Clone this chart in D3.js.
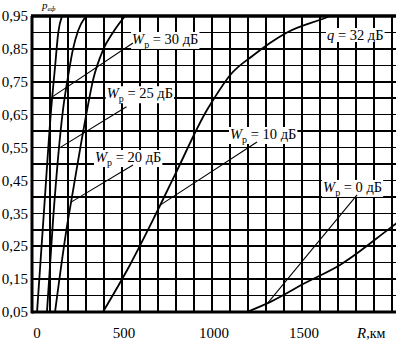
<!DOCTYPE html>
<html>
<head>
<meta charset="utf-8">
<script src="https://cdn.jsdelivr.net/npm/d3@7"></script>
<style>
  body { margin: 0; background: #fff; }
  svg { display: block; }
</style>
</head>
<body>
<svg id="chart" width="396" height="343"></svg>
<script>
// axis ticks
const rTicks = [0, 500, 1000, 1500];
const rGrid = d3.range(0, 2001, 100);
const pTicks = [0.05, 0.15, 0.25, 0.35, 0.45, 0.55, 0.65, 0.75, 0.85, 0.95];
const pTickLabels = ["0,05", "0,15", "0,25", "0,35", "0,45", "0,55", "0,65", "0,75", "0,85", "0,95"];
const pGrid = d3.range(0.05, 0.951, 0.05);

// curves: [R km, p]
const curveWp30 = [[28, 0.05], [67, 0.36], [106, 0.664], [128, 0.795], [146, 0.9], [167, 0.95]];
const curveWp25 = [[83, 0.05], [117, 0.33], [172, 0.664], [200, 0.765], [228, 0.85], [256, 0.905], [300, 0.95]];
const curveWp20 = [[128, 0.05], [200, 0.33], [217, 0.384], [306, 0.664], [339, 0.755], [394, 0.846], [450, 0.9], [517, 0.95]];
const curveWp10 = [[394, 0.05], [544, 0.193], [672, 0.33], [794, 0.467], [972, 0.664], [1017, 0.704],
                   [1100, 0.77], [1228, 0.83], [1322, 0.868], [1417, 0.9], [1628, 0.944], [1656, 0.95]];
const curveWp0 = [[1194, 0.05], [1322, 0.08], [1517, 0.138], [1711, 0.193], [1989, 0.305], [2030, 0.322]];

// labels: curve, text, label anchor (R, p), leader start p on curve, leader end (R, p)
const notes = [
  { curve: curveWp30, sub: "р", rest: " = 30 дБ", R: 556, p: 0.865, fromP: 0.704, toR: 561, toP: 0.868 },
  { curve: curveWp25, sub: "р", rest: " = 25 дБ", R: 415, p: 0.70, fromP: 0.549, toR: 525, toP: 0.674 },
  { curve: curveWp20, sub: "р", rest: " = 20 дБ", R: 350, p: 0.506, fromP: 0.384, toR: 561, toP: 0.497 },
  { curve: curveWp10, sub: "р", rest: " = 10 дБ", R: 1100, p: 0.576, fromP: 0.375, toR: 1250, toP: 0.567 },
  { curve: curveWp0, sub: "р", rest: " = 0 дБ", R: 1617, p: 0.415, fromP: 0.077, toR: 1806, toP: 0.406 }
];

const font = "Liberation Serif";
const svg = d3.select("#chart").style("font-family", font);
const x = d3.scaleLinear().domain([0, 2000]).range([32, 392]);
const y = d3.scaleLinear().domain([0.05, 0.95]).range([312, 16]);
const xEnd = 396;

// grid
svg.append("g")
  .selectAll("line")
  .data(rGrid)
  .enter().append("line")
  .attr("x1", d => x(d)).attr("x2", d => x(d))
  .attr("y1", y(0.95)).attr("y2", y(0.05))
  .attr("stroke", "#000")
  .attr("stroke-width", 1.6)
  .attr("shape-rendering", "crispEdges");

svg.append("g")
  .selectAll("line")
  .data(pGrid)
  .enter().append("line")
  .attr("x1", x(0)).attr("x2", xEnd)
  .attr("y1", d => y(d)).attr("y2", d => y(d))
  .attr("stroke", "#000")
  .attr("stroke-width", 1.6)
  .attr("shape-rendering", "crispEdges");

// frame
svg.append("line").attr("x1", x(0) - 1).attr("x2", xEnd).attr("y1", y(0.95)).attr("y2", y(0.95))
  .attr("stroke", "#000").attr("stroke-width", 3.5);
svg.append("line").attr("x1", x(0)).attr("x2", x(0)).attr("y1", y(0.95)).attr("y2", y(0.05) + 1.5)
  .attr("stroke", "#000").attr("stroke-width", 3);
svg.append("line").attr("x1", x(0)).attr("x2", xEnd).attr("y1", y(0.05)).attr("y2", y(0.05))
  .attr("stroke", "#000").attr("stroke-width", 3);

// curves
const line = d3.line()
  .x(d => x(d[0]))
  .y(d => y(d[1]))
  .curve(d3.curveMonotoneX);

svg.append("defs").append("clipPath").attr("id", "plot")
  .append("rect").attr("x", x(0)).attr("y", y(0.95)).attr("width", xEnd - x(0)).attr("height", y(0.05) - y(0.95));

svg.append("g")
  .attr("clip-path", "url(#plot)")
  .selectAll("path")
  .data([curveWp30, curveWp25, curveWp20, curveWp10, curveWp0])
  .enter().append("path")
  .attr("d", line)
  .attr("fill", "none")
  .attr("stroke", "#000")
  .attr("stroke-width", 1.8);

// find R on a curve for a given p
function rAt(curve, p) {
  for (let i = 1; i < curve.length; i++) {
    const a = curve[i - 1], b = curve[i];
    if (p >= a[1] && p <= b[1]) return a[0] + (p - a[1]) / (b[1] - a[1]) * (b[0] - a[0]);
  }
  return curve[0][0];
}

// labels with white background
function addLabel(g, parts, px, py) {
  const t = g.append("text").attr("x", px).attr("y", py)
    .style("font-family", font).style("font-size", "14.5px");
  parts(t);
  const bb = t.node().getBBox();
  g.insert("rect", "text")
    .attr("x", bb.x - 1).attr("y", bb.y + 1)
    .attr("width", bb.width + 2).attr("height", bb.height - 2)
    .attr("fill", "#fff");
}

notes.forEach(n => {
  const g = svg.append("g");
  addLabel(g, t => {
    t.append("tspan").style("font-style", "italic").text("W");
    t.append("tspan").attr("dy", 4).style("font-size", "10px").text(n.sub);
    t.append("tspan").attr("dy", -4).text(n.rest);
  }, x(n.R), y(n.p));
});

const gq = svg.append("g");
addLabel(gq, t => {
  t.append("tspan").style("font-style", "italic").text("q");
  t.append("tspan").text(" = 32 дБ");
}, x(1639), y(0.877));

// leaders
svg.append("g")
  .selectAll("line")
  .data(notes)
  .enter().append("line")
  .attr("x1", d => x(rAt(d.curve, d.fromP))).attr("y1", d => y(d.fromP))
  .attr("x2", d => x(d.toR)).attr("y2", d => y(d.toP))
  .attr("stroke", "#000")
  .attr("stroke-width", 1.1);

// tick labels
svg.append("g")
  .selectAll("text")
  .data(pTicks)
  .enter().append("text")
  .attr("x", 28)
  .attr("y", d => y(d))
  .attr("dy", "0.35em")
  .attr("text-anchor", "end")
  .style("font-family", font)
  .style("font-size", "15px")
  .text((d, i) => pTickLabels[i]);

svg.append("g")
  .selectAll("text")
  .data(rTicks)
  .enter().append("text")
  .attr("x", d => x(d) + (d === 0 ? 5 : 2))
  .attr("y", 338)
  .attr("text-anchor", "middle")
  .style("font-family", font)
  .style("font-size", "15px")
  .text(d => d);

// axis titles
const rt = svg.append("text").attr("x", 357).attr("y", 338)
  .style("font-family", font).style("font-size", "14px");
rt.append("tspan").style("font-style", "italic").style("font-size", "15px").text("R");
rt.append("tspan").text(",км");

const pt = svg.append("text").attr("x", 42).attr("y", 9)
  .style("font-family", font).style("font-size", "11px");
pt.append("tspan").style("font-style", "italic").text("p");
pt.append("tspan").attr("dy", 2).style("font-size", "7px").style("font-style", "italic").text("вф");
</script>
</body>
</html>
